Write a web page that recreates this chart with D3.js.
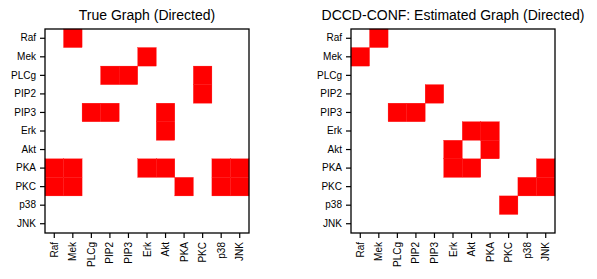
<!DOCTYPE html>
<html lang="en">
<head>
<meta charset="UTF-8">
<script src="https://cdn.jsdelivr.net/npm/d3@7/dist/d3.min.js"></script>
<title>Graphs</title>
<style>
  * { margin: 0; padding: 0; box-sizing: border-box; }
  body, html { width: 597px; height: 279px; background: #fff; overflow: hidden; }
  text { font-family: "Liberation Sans", Arial, Helvetica, sans-serif; fill: #000; }
</style>
</head>
<body>
<svg id="chart" width="597" height="279"></svg>
<script>
  // node names, rows = from, columns = to
  var nodes = ['Raf', 'Mek', 'PLCg', 'PIP2', 'PIP3', 'Erk', 'Akt', 'PKA', 'PKC', 'p38', 'JNK'];

  var trueEdges = [
    ['Raf', 'Mek'],
    ['Mek', 'Erk'],
    ['PLCg', 'PIP2'], ['PLCg', 'PIP3'], ['PLCg', 'PKC'],
    ['PIP2', 'PKC'],
    ['PIP3', 'PLCg'], ['PIP3', 'PIP2'], ['PIP3', 'Akt'],
    ['Erk', 'Akt'],
    ['PKA', 'Raf'], ['PKA', 'Mek'], ['PKA', 'Erk'], ['PKA', 'Akt'], ['PKA', 'p38'], ['PKA', 'JNK'],
    ['PKC', 'Raf'], ['PKC', 'Mek'], ['PKC', 'PKA'], ['PKC', 'p38'], ['PKC', 'JNK']
  ];

  var estEdges = [
    ['Raf', 'Mek'],
    ['Mek', 'Raf'],
    ['PIP2', 'PIP3'],
    ['PIP3', 'PLCg'], ['PIP3', 'PIP2'],
    ['Erk', 'Akt'], ['Erk', 'PKA'],
    ['Akt', 'Erk'], ['Akt', 'PKA'],
    ['PKA', 'Erk'], ['PKA', 'Akt'], ['PKA', 'JNK'],
    ['PKC', 'p38'], ['PKC', 'JNK'],
    ['p38', 'PKC']
  ];

  var titles = ['True Graph (Directed)', 'DCCD-CONF: Estimated Graph (Directed)'];

  var svg = d3.select('#chart');
  var size = 204;
  var plotTop = 29;

  function drawPanel(left, title, edges) {
    var g = svg.append('g').attr('transform', 'translate(' + left + ',' + plotTop + ')');

    var x = d3.scaleBand().domain(nodes).range([0, size]);
    var y = d3.scaleBand().domain(nodes).range([0, size]);

    g.selectAll('rect.cell')
      .data(edges)
      .enter()
      .append('rect')
      .attr('class', 'cell')
      .attr('x', function (d) { return x(d[1]); })
      .attr('y', function (d) { return y(d[0]); })
      .attr('width', x.bandwidth())
      .attr('height', y.bandwidth())
      .attr('fill', '#ff0000')
      .attr('stroke', '#ff0000')
      .attr('stroke-width', 0.3);

    g.append('rect')
      .attr('x', 0)
      .attr('y', 0)
      .attr('width', size)
      .attr('height', size)
      .attr('fill', 'none')
      .attr('stroke', '#000')
      .attr('stroke-width', 1.3);

    var yAxis = g.append('g')
      .call(d3.axisLeft(y).tickSize(5).tickPadding(4).tickSizeOuter(0));
    yAxis.select('.domain').remove();
    yAxis.selectAll('text').style('font-size', '10px');
    yAxis.selectAll('line').attr('stroke-width', 1.2);

    var xAxis = g.append('g')
      .attr('transform', 'translate(0,' + size + ')')
      .call(d3.axisBottom(x).tickSize(5).tickPadding(4).tickSizeOuter(0));
    xAxis.select('.domain').remove();
    xAxis.selectAll('line').attr('stroke-width', 1.2);
    xAxis.selectAll('text')
      .style('font-size', '10px')
      .attr('text-anchor', 'end')
      .attr('transform', 'rotate(-90)')
      .attr('x', -9)
      .attr('y', 0)
      .attr('dy', '0.35em');

    svg.append('text')
      .attr('x', left + size / 2)
      .attr('y', 20)
      .attr('text-anchor', 'middle')
      .style('font-size', '14px')
      .text(title);
  }

  drawPanel(45, titles[0], trueEdges);
  drawPanel(351, titles[1], estEdges);
</script>
</body>
</html>
